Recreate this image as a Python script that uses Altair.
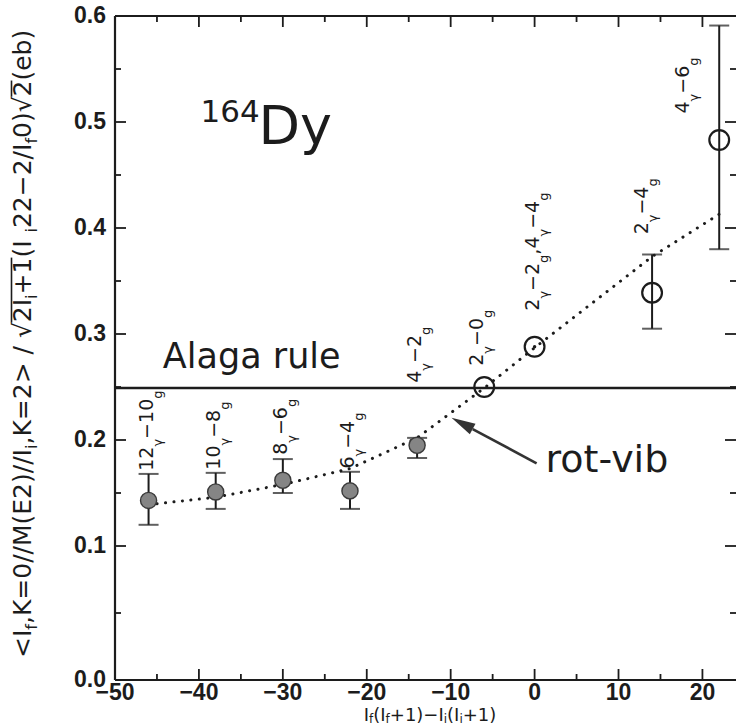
import math
import altair as alt
import pandas as pd

# ---------------------------------------------------------------------------
# 164Dy : reduced E2 matrix-element ratio gamma-band -> ground band
# x = If(If+1) - Ii(Ii+1)
# ---------------------------------------------------------------------------
trans_x = [-46, -38, -30, -22, -14, -6, 0, 14, 22]
ratio = [0.143, 0.151, 0.162, 0.152, 0.195, 0.250, 0.288, 0.339, 0.483]
err_lo = [0.120, 0.135, 0.150, 0.135, 0.183, None, None, 0.305, 0.380]
err_hi = [0.168, 0.169, 0.182, 0.170, 0.202, None, None, 0.375, 0.591]
solid = [True, True, True, True, True, False, False, False, False]
centre_dot = [False, False, False, False, False, False, True, False, False]

# transition labels: (text, is_subscript)
label_parts = [
    [("12", 0), ("γ", 1), ("−10", 0), ("g", 1)],
    [("10", 0), ("γ", 1), ("−8", 0), ("g", 1)],
    [("8", 0), ("γ", 1), ("−6", 0), ("g", 1)],
    [("6", 0), ("γ", 1), ("−4", 0), ("g", 1)],
    [("4", 0), ("γ", 1), ("−2", 0), ("g", 1)],
    [("2", 0), ("γ", 1), ("−0", 0), ("g", 1)],
    [("2", 0), ("γ", 1), ("−2", 0), ("g", 1), (",", 0), ("4", 0), ("γ", 1), ("−4", 0), ("g", 1)],
    [("2", 0), ("γ", 1), ("−4", 0), ("g", 1)],
    [("4", 0), ("γ", 1), ("−6", 0), ("g", 1)],
]
label_x = [-46, -38, -30, -22, -14, -6.6, 0, 13, 17.9]
label_y = [0.171, 0.172, 0.186, 0.173, 0.254, 0.270, 0.322, 0.394, 0.508]

# rotation-vibration model curve
rotvib_x = [-46, -38, -30, -22, -14, -6, 0, 14, 22]
rotvib_y = [0.139, 0.146, 0.158, 0.173, 0.202, 0.249, 0.287, 0.373, 0.413]

alaga_value = 0.249

x_tick_labels = [-50, -40, -30, -20, -10, 0, 10, 20]
x_major = [-40, -30, -20, -10, 0, 10, 20]
x_minor = [-45, -35, -25, -15, -5, 5, 15]
y_tick_labels = [0.0, 0.1, 0.2, 0.3, 0.4, 0.5, 0.6]
y_major = [0.1, 0.2, 0.3, 0.4, 0.5]
y_minor = [0.05, 0.15, 0.25, 0.35, 0.45, 0.55]

ytitle_parts = [
    ("<I", 0), ("f", 1), (",K=0//M(E2)//I", 0), ("i", 1), (",K=2> / √", 0),
    ("2I", 0), ("i", 1), ("+1", 0), (" (I", 0), ("i", 1), ("22−2/I", 0),
    ("f", 1), ("0)√", 0), ("2", 0), ("  (eb)", 0),
]
ytitle_overlines = [(5, 7), (13, 13)]
xtitle_parts = [
    ("I", 0), ("f", 1), ("(I", 0), ("f", 1), ("+1)−I", 0), ("i", 1),
    ("(I", 0), ("i", 1), ("+1)", 0),
]

# ---------------------------------------------------------------------------
W, H = 621, 664
INK = "#1c1c1c"
FONT = "DejaVu Sans"
TICK_FONT = "Liberation Sans"
TICK_SIZE = 23

XS = alt.Scale(domain=[-50, 24], range=[0, W], nice=False, zero=False)
YS = alt.Scale(domain=[0.0, 0.1, 0.6], range=[H, 530, 0], nice=False, zero=False)
PX_PER_X = W / 74.0
PX_PER_Y = 530 / 0.5

# DejaVu Sans advance widths (em)
ADV = {c: 0.636 for c in "0123456789"}
ADV.update({"−": 0.838, "γ": 0.592, "g": 0.635, ",": 0.318, " ": 0.318,
            "<": 0.838, ">": 0.838, "=": 0.838, "+": 0.838, "I": 0.295,
            "f": 0.352, "i": 0.278, "K": 0.656, "/": 0.337, "M": 0.863,
            "(": 0.390, ")": 0.390, "E": 0.632, "√": 0.636, "e": 0.615,
            "b": 0.635})


def text_em(s):
    return sum(ADV.get(c, 0.6) for c in s)


def glyph_rows(parts, main, sub):
    rows, pos = [], 0.0
    for txt, lvl in parts:
        fs = sub if lvl else main
        rows.append({"t": txt, "fs": fs, "off": pos, "sub": lvl,
                     "end": pos + text_em(txt) * fs})
        pos += text_em(txt) * fs
    return rows, pos


def xe(field):
    return alt.X(field, type="quantitative", scale=XS, axis=None)


def ye(field):
    return alt.Y(field, type="quantitative", scale=YS, axis=None)


# ---------------------------------------------------------------- data frames
pts = pd.DataFrame({"x": trans_x, "r": ratio, "lo": err_lo, "hi": err_hi,
                    "solid": solid, "dot": centre_dot})
bars = pts.dropna(subset=["lo", "hi"])
caps = pd.concat([bars[["x", "lo"]].rename(columns={"lo": "v"}),
                  bars[["x", "hi"]].rename(columns={"hi": "v"})])
curve = pd.DataFrame({"x": rotvib_x, "y": rotvib_y})

# rotated transition labels: segments laid out upward from each anchor
LAB_MAIN, LAB_SUB = 19, 13
lab_rows = []
for lx, ly, parts in zip(label_x, label_y, label_parts):
    rows, _ = glyph_rows(parts, LAB_MAIN, LAB_SUB)
    for r in rows:
        drop = 13 if r["sub"] else 4
        lab_rows.append({"x": lx + drop / PX_PER_X, "y": ly + r["off"] / PX_PER_Y,
                         "t": r["t"], "fs": r["fs"]})
labels = pd.DataFrame(lab_rows)

# y-axis title, read bottom-to-top (pixel positions)
YT_MAIN, YT_SUB = 25, 16
yt_rows, _ = glyph_rows(ytitle_parts, YT_MAIN, YT_SUB)
YT_BASE, YT_START = -84, 642
ytitle = pd.DataFrame([{"px": YT_BASE + (6 if r["sub"] else 0),
                        "py": YT_START - r["off"], "t": r["t"], "fs": r["fs"]}
                       for r in yt_rows])
ov = pd.DataFrame([{"px": YT_BASE - 0.78 * YT_MAIN,
                    "p1": YT_START - yt_rows[a]["off"],
                    "p2": YT_START - yt_rows[b]["end"]} for a, b in ytitle_overlines])

# x-axis title
XT_MAIN, XT_SUB = 18, 12
xt_rows, xt_len = glyph_rows(xtitle_parts, XT_MAIN, XT_SUB)
xt_start = 315 - xt_len / 2
xtitle = pd.DataFrame([{"px": xt_start + r["off"], "py": 705 + (2 if r["sub"] else 0),
                        "t": r["t"], "fs": r["fs"]} for r in xt_rows])

# ---------------------------------------------------------------- frame/ticks
MAJ, MIN = 11, 6
xt = pd.DataFrame({"x": x_major + x_minor,
                   "L": [MAJ] * len(x_major) + [MIN] * len(x_minor)})
yt = pd.DataFrame({"y": y_major + y_minor,
                   "L": [MAJ] * len(y_major) + [MIN] * len(y_minor)})

frame = pd.DataFrame({"x": [-50, -50, -50], "x2": [-50, 24, 24],
                      "y": [0.0, 0.0, 0.6], "y2": [0.6, 0.0, 0.6]})
frame_layer = alt.Chart(frame).mark_rule(color=INK, strokeWidth=2.2).encode(
    x=xe("x"), x2="x2", y=ye("y"), y2="y2")

tick_groups = []
for L in (MAJ, MIN):
    xs = xt[xt["L"] == L]
    ys = yt[yt["L"] == L]
    tick_groups += [
        alt.Chart(xs).mark_rule(color=INK, strokeWidth=1.8).encode(
            x=xe("x"), y=alt.value(H), y2=alt.value(H - L)),
        alt.Chart(xs).mark_rule(color=INK, strokeWidth=1.8).encode(
            x=xe("x"), y=alt.value(0), y2=alt.value(L)),
        alt.Chart(ys).mark_rule(color=INK, strokeWidth=1.8).encode(
            y=ye("y"), x=alt.value(0), x2=alt.value(L)),
        alt.Chart(ys).mark_rule(color=INK, strokeWidth=1.8).encode(
            y=ye("y"), x=alt.value(W - L), x2=alt.value(W)),
    ]

# tick labels
xlab = pd.DataFrame({"x": x_tick_labels,
                     "t": [f"{v:d}".replace("-", "−") for v in x_tick_labels]})
ylab = pd.DataFrame({"y": y_tick_labels, "t": [f"{v:.1f}" for v in y_tick_labels]})
xlab_layer = alt.Chart(xlab).mark_text(
    font=TICK_FONT, fontWeight="bold", fontSize=TICK_SIZE, color=INK,
    align="center", baseline="middle").encode(
    x=xe("x"), y=alt.value(H + 13), text="t:N")
ylab_layer = alt.Chart(ylab).mark_text(
    font=TICK_FONT, fontWeight="bold", fontSize=TICK_SIZE, color=INK,
    align="right", baseline="middle").encode(
    y=ye("y"), x=alt.value(-9), text="t:N")

# ---------------------------------------------------------------- data marks
alaga = alt.Chart(pd.DataFrame({"y": [alaga_value]})).mark_rule(
    color=INK, strokeWidth=2.6).encode(y=ye("y"), x=alt.value(0), x2=alt.value(W))

rotvib = alt.Chart(curve).mark_line(
    color=INK, strokeWidth=3, strokeCap="round", strokeDash=[0.1, 8.4]).encode(
    x=xe("x"), y=ye("y"))

err = alt.Chart(bars).mark_rule(color=INK, strokeWidth=2).encode(
    x=xe("x"), y=ye("lo"), y2="hi")
cap = alt.Chart(caps).mark_tick(color=INK, orient="horizontal", size=20,
                                thickness=2).encode(x=xe("x"), y=ye("v"))

filled_pts = alt.Chart(pts[pts["solid"]]).mark_point(
    shape="circle", filled=True, size=260, fill="#858585", stroke="#3a3a3a",
    strokeWidth=1.4, opacity=1).encode(x=xe("x"), y=ye("r"))
open_pts = alt.Chart(pts[~pts["solid"]]).mark_point(
    shape="circle", filled=False, size=390, stroke=INK, strokeWidth=2.2,
    opacity=1).encode(x=xe("x"), y=ye("r"))
dots = alt.Chart(pts[pts["dot"]]).mark_point(
    shape="circle", filled=True, size=12, color=INK, opacity=1).encode(
    x=xe("x"), y=ye("r"))

label_layer = alt.Chart(labels).mark_text(
    angle=270, align="left", baseline="alphabetic", font=FONT, color=INK).encode(
    x=xe("x"), y=ye("y"), text="t:N",
    size=alt.Size("fs:Q", scale=None, legend=None))

# ---------------------------------------------------------------- annotations
notes = pd.DataFrame([
    {"x": -39.8, "y": 0.500, "t": "164", "fs": 31},
    {"x": -32.9, "y": 0.479, "t": "Dy", "fs": 54},
    {"x": -44.3, "y": 0.268, "t": "Alaga rule", "fs": 35},
    {"x": 1.3, "y": 0.170, "t": "rot-vib", "fs": 38},
])
note_layer = alt.Chart(notes).mark_text(
    align="left", baseline="alphabetic", font=FONT, color=INK).encode(
    x=xe("x"), y=ye("y"), text="t:N", size=alt.Size("fs:Q", scale=None, legend=None))

# arrow from the "rot-vib" note to the dotted curve
tail = (0.24, 0.178)
tip = (-9.9, 0.221)
dxp = (tip[0] - tail[0]) * PX_PER_X
dyp = -(tip[1] - tail[1]) * PX_PER_Y
ln = math.hypot(dxp, dyp)
ux, uy = dxp / ln, dyp / ln
HEAD = 24
base = (tip[0] - HEAD * ux / PX_PER_X, tip[1] + HEAD * uy / PX_PER_Y)
head_angle = math.degrees(math.atan2(ux, -uy)) % 360

shaft = alt.Chart(pd.DataFrame({"x": [tail[0]], "y": [tail[1]],
                                "x2": [base[0]], "y2": [base[1]]})).mark_rule(
    color="#333333", strokeWidth=2.6).encode(x=xe("x"), y=ye("y"), x2="x2", y2="y2")
head = alt.Chart(pd.DataFrame({"x": [tip[0]], "y": [tip[1]]})).mark_point(
    shape="M0,0L0.5,2L-0.5,2Z", filled=True, size=HEAD * HEAD, color="#333333",
    opacity=1, angle=head_angle).encode(x=xe("x"), y=ye("y"))

# ---------------------------------------------------------------- axis titles
ytitle_layer = alt.Chart(ytitle).mark_text(
    angle=270, align="left", baseline="alphabetic", font=FONT, color=INK).encode(
    x=alt.X("px:Q", scale=None), y=alt.Y("py:Q", scale=None), text="t:N",
    size=alt.Size("fs:Q", scale=None, legend=None))
overline_layer = alt.Chart(ov).mark_rule(color=INK, strokeWidth=1.6).encode(
    x=alt.X("px:Q", scale=None), y=alt.Y("p1:Q", scale=None),
    y2=alt.Y2("p2:Q"))
xtitle_layer = alt.Chart(xtitle).mark_text(
    align="left", baseline="alphabetic", font=FONT, color=INK).encode(
    x=alt.X("px:Q", scale=None), y=alt.Y("py:Q", scale=None), text="t:N",
    size=alt.Size("fs:Q", scale=None, legend=None))

chart = alt.layer(
    alaga, rotvib, err, cap, filled_pts, open_pts, dots,
    frame_layer, *tick_groups, xlab_layer, ylab_layer,
    label_layer, note_layer, shaft, head, ytitle_layer, overline_layer, xtitle_layer,
).properties(
    width=W, height=H,
    autosize=alt.AutoSizeParams(type="none"),
    padding={"left": 115, "top": 16, "right": 0, "bottom": 46},
    background="white",
).configure_view(stroke=None)

chart.save("out.html", embed_options={"renderer": "svg", "actions": False})
